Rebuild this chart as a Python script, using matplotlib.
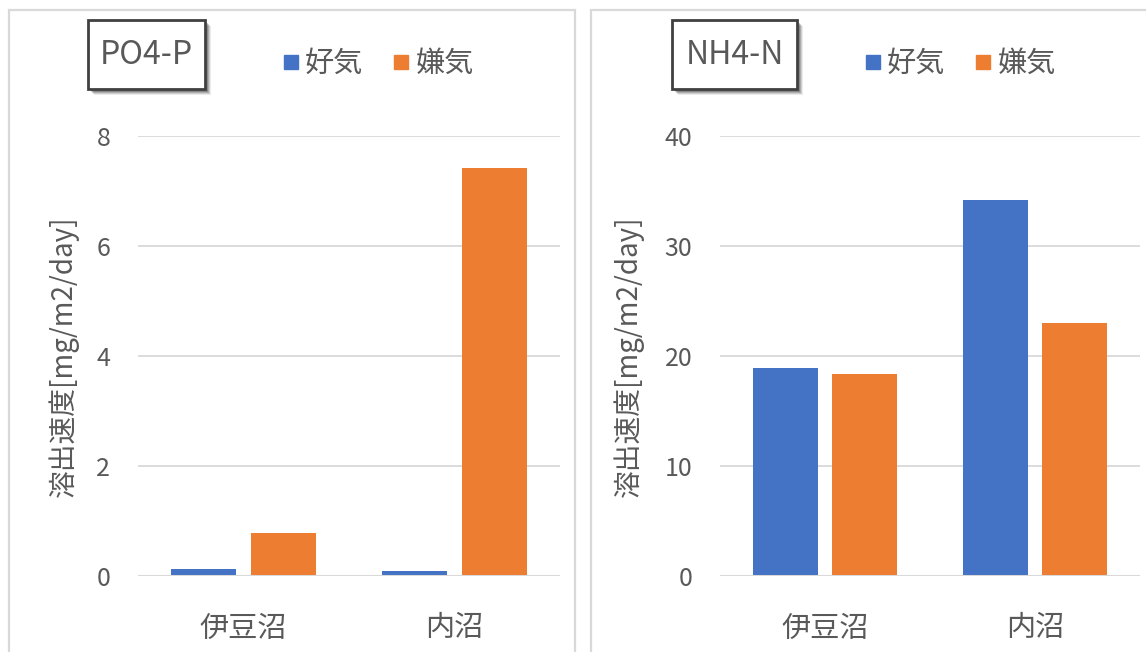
import matplotlib
matplotlib.use('Agg')
from matplotlib import pyplot as plt
from matplotlib.patches import Rectangle
from matplotlib.lines import Line2D
import numpy as np

plt.rcParams['font.family'] = ['Noto Sans CJK JP', 'DejaVu Sans']

# DATA
SITES = ['伊豆沼', '内沼']
SERIES = ['好気', '嫌気']
PO4_P = [[0.12, 0.09], [0.79, 7.42]]      # [好気, 嫌気] per site
NH4_N = [[18.9, 34.2], [18.4, 23.0]]
PO4_TICKS = [0, 2, 4, 6, 8]
NH4_TICKS = [0, 10, 20, 30, 40]
TITLES = ['PO4-P', 'NH4-N']
YLABEL = '溶出速度[mg/m2/day]'

# STYLE
W, H = 1146, 652
COLORS = ['#4472C4', '#ED7D31']
GREY = '#595959'
GRID = '#d9d9d9'

fig = plt.figure(figsize=(W/100, H/100), dpi=100)

def px(x0, y0, x1, y1):
    # pixel box (from top-left) -> figure fractions
    return [x0/W, 1-y1/H, (x1-x0)/W, (y1-y0)/H]

# panel borders
for x0, x1 in ((9, 575), (591, 1160)):
    fig.patches.append(Rectangle((x0/W, -0.1), (x1-x0)/W, 1.1-10/H, transform=fig.transFigure,
                                 fill=False, ec=GRID, lw=1.6, zorder=0))

PANELS = [
    dict(data=PO4_P, ticks=PO4_TICKS, ax=(138, 136, 560, 576), title=TITLES[0],
         box=(88, 20, 205, 89), leg=(378, 64), ylab=-0.14),
    dict(data=NH4_N, ticks=NH4_TICKS, ax=(720, 136, 1140, 576), title=TITLES[1],
         box=(672, 20, 797, 89), leg=(960, 64), ylab=-0.181),
]

x = np.arange(len(SITES))
w, off = 0.31, 0.19
for P in PANELS:
    ax = fig.add_axes(px(*P['ax']))
    for k in range(2):
        ax.bar(x + (2*k-1)*off, P['data'][k], w, color=COLORS[k], zorder=3)
    ax.set_xlim(-0.5, 1.5)
    ax.set_ylim(P['ticks'][0], P['ticks'][-1])
    ax.set_yticks(P['ticks'])
    ax.set_xticks(x, SITES)
    ax.grid(axis='y', color=GRID, lw=1.3, zorder=0)
    ax.axhline(0, color=GRID, lw=2.2, zorder=4)
    for s in ax.spines.values():
        s.set_visible(False)
    ax.tick_params(axis='y', length=0, pad=20, labelsize=18, labelcolor=GREY)
    ax.tick_params(axis='x', length=0, pad=27, labelsize=21, labelcolor=GREY)
    ax.set_ylabel(YLABEL, fontsize=20, color=GREY)
    ax.yaxis.set_label_coords(P['ylab'], 0.5)

    # title box with soft shadow
    x0, y0, x1, y1 = P['box']
    for d, a in ((6, 0.08), (5, 0.12), (4, 0.16), (3, 0.2)):
        fig.patches.append(Rectangle(*[(px(x0+d, y0+d, x1+d, y1+d)[:2])],
                                     *px(x0, y0, x1, y1)[2:], transform=fig.transFigure,
                                     fc='#000000', ec='none', alpha=a, zorder=5))
    fig.patches.append(Rectangle(px(x0, y0, x1, y1)[:2], *px(x0, y0, x1, y1)[2:],
                                 transform=fig.transFigure, fc='white', ec='#404040', lw=2, zorder=6))
    fig.text((x0+x1)/2/W, 1-(y0+y1)/2/H, P['title'], ha='center', va='center',
             fontsize=23, color=GREY, zorder=7)

    handles = [Line2D([], [], ls='none', marker='s', ms=10, color=c) for c in COLORS]
    fig.legend(handles, SERIES, loc='center', ncol=2, frameon=False, fontsize=21,
               labelcolor=GREY, bbox_to_anchor=(P['leg'][0]/W, 1-P['leg'][1]/H),
               handlelength=0.6, handletextpad=0.2, columnspacing=1.0)

fig.savefig('out.png', dpi=100)
